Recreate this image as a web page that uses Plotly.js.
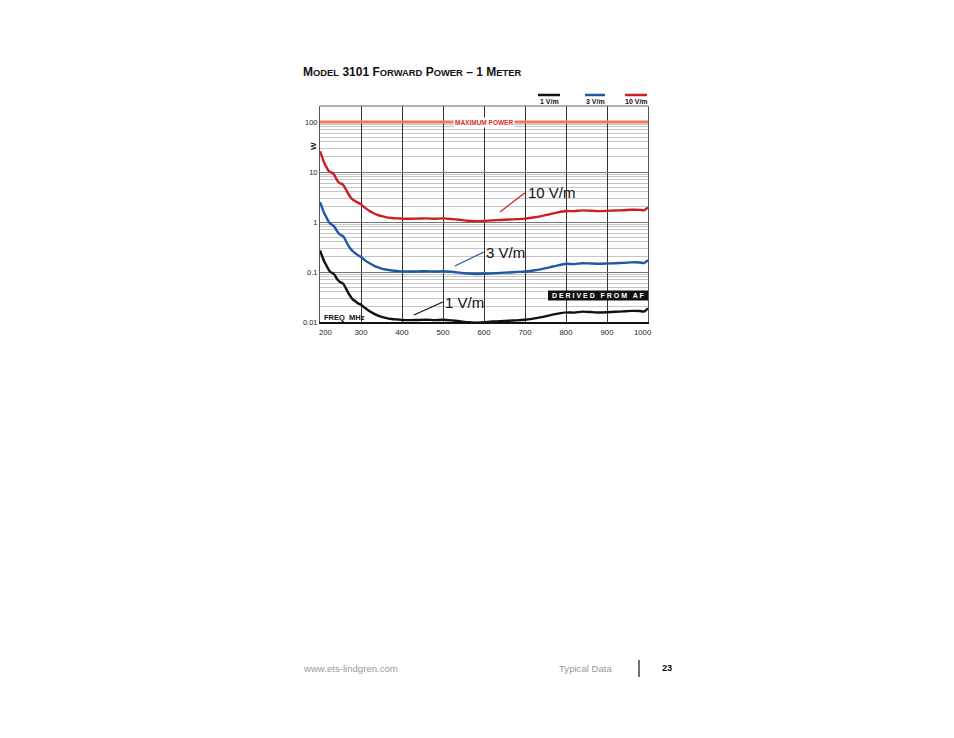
<!DOCTYPE html>
<html>
<head>
<meta charset="utf-8">
<script src="https://cdn.plot.ly/plotly-3.0.1.min.js"></script>
<style>html,body{margin:0;padding:0;background:#fff;}#chart{width:954px;height:738px;}</style>
</head>
<body>
<div id="chart"></div>
<script>
// ---- data ----
var freqMHz = [200,205,210,215,220,225,230,235,240,245,250,255,260,265,270,275,280,285,290,295,300,
  310,320,330,340,350,360,375,390,400,420,440,460,480,500,520,540,560,580,600,620,640,660,680,700,
  720,740,760,780,800,820,840,860,880,900,920,940,960,980,990,1000];
var power1Vm = [0.27,0.21,0.165,0.138,0.115,0.101,0.096,0.089,0.076,0.067,0.062,0.060,0.053,0.044,0.037,0.032,0.028,0.0265,0.0245,0.023,0.0222,
  0.019,0.0166,0.0149,0.0136,0.0127,0.0121,0.0115,0.0112,0.0110,0.0109,0.0110,0.0111,0.0109,0.0111,0.0108,0.0104,0.0099,0.0097,0.0099,0.0102,0.0104,0.0106,0.0108,0.0111,
  0.0117,0.0125,0.0136,0.0147,0.0156,0.0154,0.0161,0.0158,0.0155,0.0157,0.0160,0.0163,0.0167,0.0166,0.0162,0.0188];
var power3Vm = [2.5,1.95,1.52,1.27,1.05,0.93,0.87,0.81,0.69,0.60,0.55,0.53,0.47,0.39,0.33,0.29,0.26,0.24,0.225,0.21,0.20,
  0.171,0.151,0.136,0.125,0.117,0.112,0.107,0.104,0.103,0.102,0.103,0.104,0.102,0.104,0.101,0.097,0.093,0.091,0.092,0.094,0.096,0.098,0.100,0.102,
  0.107,0.114,0.124,0.136,0.146,0.144,0.150,0.148,0.146,0.148,0.150,0.152,0.156,0.155,0.151,0.172];
var power10Vm = [26,20,15.5,12.8,10.8,10.0,9.6,8.7,7.2,6.3,5.9,5.7,5.0,4.2,3.55,3.1,2.8,2.65,2.5,2.38,2.25,
  1.92,1.68,1.51,1.39,1.31,1.25,1.2,1.18,1.17,1.16,1.17,1.18,1.16,1.18,1.15,1.11,1.06,1.04,1.05,1.08,1.10,1.12,1.14,1.17,
  1.23,1.31,1.43,1.56,1.66,1.64,1.71,1.68,1.65,1.67,1.70,1.72,1.76,1.75,1.71,1.95];
var maxPowerFreq = [200,1000];
var maxPowerW = [100,100];
var xTickVals = [200,300,400,500,600,700,800,900,1000];
var xTickText = ["\u00a0\u00a0\u00a0\u00a0\u00a0200","300","400","500","600","700","800","900","1000\u00a0\u00a0\u00a0\u00a0\u00a0"];
var yTickVals = [0.01,0.1,1,10,100];
var yTickText = ["0.01","0.1","1","10","100"];
var seriesNames = ["1 V/m","3 V/m","10 V/m"];
var seriesColors = ["#111111","#1f58a6","#cc1e24"];

// ---- layout helpers (pixel -> paper) ----
var L=320, R=648, T=106, B=322;
function px(x){return (x-L)/(R-L);}
function py(y){return (B-y)/(B-T);}
var F = "Arial, 'Liberation Sans', sans-serif";

var traces = [
  {x:maxPowerFreq, y:maxPowerW, mode:'lines', line:{color:'#ee7d5c', width:3}, hoverinfo:'skip', showlegend:false},
  {x:freqMHz, y:power1Vm, name:seriesNames[0], mode:'lines', line:{color:seriesColors[0], width:2.4, shape:'spline', smoothing:0.5}, showlegend:false},
  {x:freqMHz, y:power3Vm, name:seriesNames[1], mode:'lines', line:{color:seriesColors[1], width:2.4, shape:'spline', smoothing:0.5}, showlegend:false},
  {x:freqMHz, y:power10Vm, name:seriesNames[2], mode:'lines', line:{color:seriesColors[2], width:2.4, shape:'spline', smoothing:0.5}, showlegend:false}
];

var sc = 'font-size:9.4px';
var titleText = "<b>M<span style='"+sc+"'>ODEL</span> 3101 F<span style='"+sc+"'>ORWARD</span> P<span style='"+sc+"'>OWER</span> – 1 M<span style='"+sc+"'>ETER</span></b>";

function txt(x, y, text, size, color, xa, extra){
  var a = {xref:'paper', yref:'paper', x:px(x), y:py(y), xanchor:xa||'left', yanchor:'middle', text:text, showarrow:false,
    borderpad:0, font:{family:F, size:size, color:color}};
  if(extra){for(var k in extra){a[k]=extra[k];}}
  return a;
}

var annotations = [
  txt(302, 72, titleText, 12, '#111', 'left'),
  // legend labels
  txt(549, 101, '<b>1 V/m</b>', 7, '#111', 'center'),
  txt(595, 101, '<b>3 V/m</b>', 7, '#111', 'center'),
  txt(636, 101, '<b>10 V/m</b>', 7, '#111', 'center'),
  // max power label
  {x:600, y:2, xanchor:'center', yanchor:'middle', text:'<b>MAXIMUM POWER</b>', showarrow:false, bgcolor:'#ffffff', borderpad:1, font:{family:F, size:6.5, color:'#d2302c'}},
  // W axis label
  txt(313, 146, '<b>W</b>', 8, '#111', 'center', {textangle:-90}),
  // FREQ MHz
  txt(323, 317, '<b>FREQ  MHz</b>', 7.5, '#111', 'left'),
  // derived from AF
  txt(598, 295.5, '<b>D E R I V E D   F R O M   A F</b>', 7, '#ffffff', 'center'),
  // curve labels
  {x:639, y:0.2, text:'10 V/m', showarrow:true, arrowhead:0, arrowwidth:1.2, arrowcolor:seriesColors[2], ax:26, ay:-20, xanchor:'left', font:{family:F, size:15, color:'#111'}},
  {x:529, y:-0.88, text:'3 V/m', showarrow:true, arrowhead:0, arrowwidth:1.2, arrowcolor:seriesColors[1], ax:29, ay:-14, xanchor:'left', font:{family:F, size:15, color:'#111'}},
  {x:429, y:-1.86, text:'1 V/m', showarrow:true, arrowhead:0, arrowwidth:1.2, arrowcolor:seriesColors[0], ax:29, ay:-13, xanchor:'left', font:{family:F, size:15, color:'#111'}},
  // footer
  txt(302, 668, 'www.ets-lindgren.com', 9.6, '#9a9a9a', 'left'),
  txt(558, 668, 'Typical Data', 9.6, '#9a9a9a', 'left'),
  txt(661, 668, '<b>23</b>', 9.2, '#111', 'left')
];

var shapes = [
  // top border
  {type:'line', xref:'paper', yref:'paper', x0:0, x1:1, y0:1, y1:1, line:{color:'#666', width:1}},
  // legend swatches
  {type:'line', xref:'paper', yref:'paper', x0:px(538), x1:px(560), y0:py(95), y1:py(95), line:{color:seriesColors[0], width:2.5}},
  {type:'line', xref:'paper', yref:'paper', x0:px(585), x1:px(605), y0:py(95), y1:py(95), line:{color:seriesColors[1], width:2.5}},
  {type:'line', xref:'paper', yref:'paper', x0:px(625), x1:px(647), y0:py(95), y1:py(95), line:{color:seriesColors[2], width:2.5}},
  // derived box
  {type:'rect', xref:'paper', yref:'paper', x0:px(548), x1:px(648), y0:py(300.5), y1:py(290.5), fillcolor:'#111', line:{width:0}},
  // footer divider
  {type:'line', xref:'paper', yref:'paper', x0:px(639), x1:px(639), y0:py(660), y1:py(677), line:{color:'#111', width:1.2}}
];

var layout = {
  width:954, height:738,
  margin:{l:L, r:954-R, t:T, b:738-B, pad:0},
  paper_bgcolor:'#ffffff', plot_bgcolor:'#ffffff',
  showlegend:false,
  font:{family:F},
  xaxis:{range:[200,1000], tickvals:xTickVals, ticktext:xTickText, tickmode:'array', showgrid:true, gridcolor:'#333', gridwidth:1,
    zeroline:false, showline:true, linecolor:'#111', linewidth:2, ticks:'', ticklabelstandoff:2,
    tickfont:{family:F, size:7.8, color:'#222'}},
  yaxis:{type:'log', range:[-2, 2.32], tickmode:'array', tickvals:yTickVals, ticktext:yTickText,
    showgrid:true, gridcolor:'#777', gridwidth:1, zeroline:false, showline:true, mirror:true, linecolor:'#555', linewidth:1,
    ticks:'', ticklabelstandoff:0, tickfont:{family:F, size:7.5, color:'#222'},
    minor:{showgrid:true, dtick:'D1', gridcolor:'#b8b8b8', gridwidth:0.8, ticks:''}},
  annotations:annotations,
  shapes:shapes
};

Plotly.newPlot('chart', traces, layout, {staticPlot:true, displayModeBar:false});
</script>
</body>
</html>
